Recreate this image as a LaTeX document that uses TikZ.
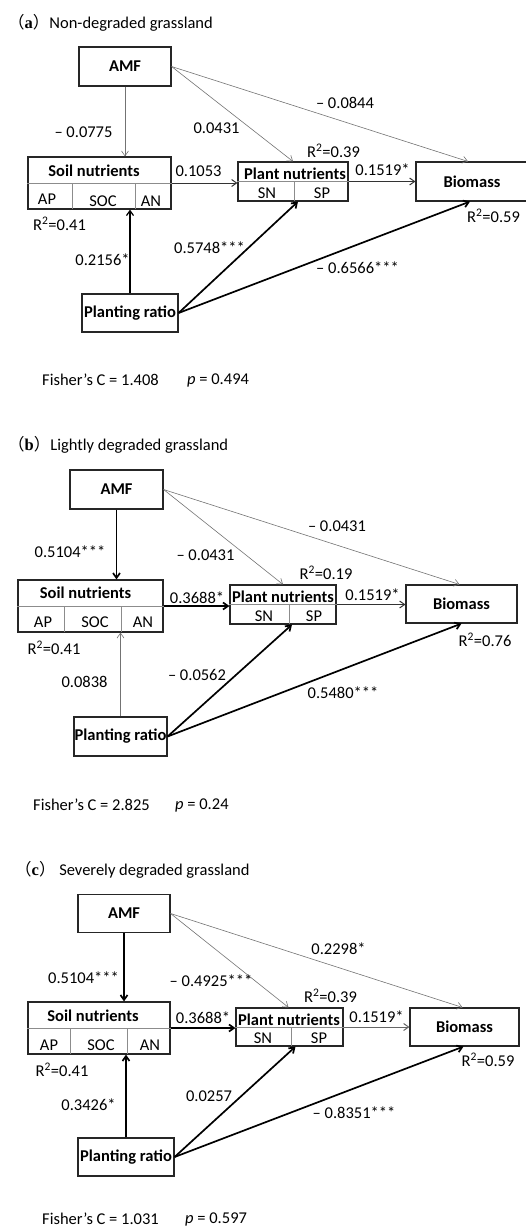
\documentclass[tikz,border=0pt]{standalone}
\usepackage{fontspec}
\setmainfont{Carlito}
\newfontfamily\cjkfont{Noto Sans CJK SC}
\newfontfamily\tagfont{Liberation Serif}
\usepackage{tikz}
\usetikzlibrary{arrows.meta}

\newcommand{\paneltag}[1]{{\cjkfont （}{\tagfont\bfseries #1}{\cjkfont ）}}

\tikzset{
  box/.style={draw=black!85, line width=1.1pt, inner sep=0pt},
  part/.style={draw=black!45, line width=0.6pt},
  thinarr/.style={->, draw=black!55, line width=0.6pt},
  midarr/.style={->, draw=black!80, line width=1pt},
  boldarr/.style={->, draw=black, line width=1.7pt},
  coef/.style={inner sep=0pt}
}

\begin{document}
\begin{tikzpicture}[x=1pt, y=-1pt, font=\fontsize{16.5pt}{19pt}\selectfont, >={Straight Barb[length=5pt,width=7pt]}]
  \useasboundingbox (0,0) rectangle (525,1229);

  \node[coef, anchor=west] (aTitle) at (8,23) {\paneltag{a}Non-degraded grassland};
  \node[box, minimum width=92pt, minimum height=39pt] (aAMF) at (125,66.5) {\textbf{AMF}};
  \node[box, minimum width=143pt, minimum height=52pt] (aSoil) at (99.5,183) {};
  \node[coef] (aSoilT) at (94,171) {\textbf{Soil nutrients}};
  \node[coef] (aAP) at (47,199) {AP};
  \node[coef] (aSOC) at (103,201) {SOC};
  \node[coef] (aAN) at (151,201) {AN};
  \draw[part] (aSoil.west) -- (aSoil.east);
  \draw[part] (72,183) -- (72,209); \draw[part] (135,183) -- (135,209);
  \node[box, minimum width=110pt, minimum height=39pt] (aPlant) at (293,181.5) {};
  \node[coef] (aPlantT) at (295,174) {\textbf{Plant nutrients}};
  \node[coef] (aSN) at (267,193) {SN};
  \node[coef] (aSP) at (322,193) {SP};
  \draw[part] (aPlant.west) -- (aPlant.east);
  \draw[part] (294,182) -- (294,201);
  \node[box, minimum width=112pt, minimum height=39pt] (aBio) at (472,181.5) {\textbf{Biomass}};
  \node[box, minimum width=96pt, minimum height=38pt] (aPR) at (130,313) {\textbf{Planting ratio}};
  \draw[thinarr] (aAMF.south) -- (aAMF.south |- aSoil.north);
  \draw[thinarr] (aAMF.east) -- (aPlant.north);
  \draw[thinarr] (aAMF.east) -- ([xshift=-4pt]aBio.north);
  \draw[midarr] (aSoil.east) -- (aSoil.east -| aPlant.west);
  \draw[midarr] (aPlant.east) -- (aPlant.east -| aBio.west);
  \draw[midarr, draw=black, line width=1.2pt] (aPR.north) -- (aPR.north |- aSoil.south);
  \draw[boldarr] (aPR.east) -- ([xshift=5pt]aPlant.south);
  \draw[boldarr] (aPR.east) -- ([xshift=-2pt]aBio.south);
  \node[coef] (aC1) at (83.5,132) {-- 0.0775};
  \node[coef] (aC2) at (216.5,128) {0.0431};
  \node[coef] (aC3) at (345,103) {-- 0.0844};
  \node[coef] (aR1) at (333.5,151) {R\textsuperscript{2}=0.39};
  \node[coef] (aC4) at (198.5,171) {0.1053};
  \node[coef] (aC5) at (382.5,170) {0.1519*};
  \node[coef] (aR2) at (59.5,224) {R\textsuperscript{2}=0.41};
  \node[coef] (aR3) at (493.5,216) {R\textsuperscript{2}=0.59};
  \node[coef] (aC6) at (102.5,260) {0.2156*};
  \node[coef] (aC7) at (209.5,248) {0.5748***};
  \node[coef] (aC8) at (357.5,268) {-- 0.6566***};
  \node[coef, anchor=west] (aFisher) at (42,380) {Fisher’s C = 1.408};
  \node[coef, anchor=west] (aP) at (187,380) {\textit{p} = 0.494};

  \node[coef, anchor=west] (bTitle) at (8,445) {\paneltag{b}Lightly degraded grassland};
  \node[box, minimum width=93pt, minimum height=39pt] (bAMF) at (116.5,489.5) {\textbf{AMF}};
  \node[box, minimum width=145pt, minimum height=52pt] (bSoil) at (90.5,606) {};
  \node[coef] (bSoilT) at (85.5,593) {\textbf{Soil nutrients}};
  \node[coef] (bAP) at (43,622) {AP};
  \node[coef] (bSOC) at (95,622) {SOC};
  \node[coef] (bAN) at (143,622) {AN};
  \draw[part] (bSoil.west) -- (bSoil.east);
  \draw[part] (64,606) -- (64,632); \draw[part] (121,606) -- (121,632);
  \node[box, minimum width=106pt, minimum height=39pt] (bPlant) at (283,604.5) {};
  \node[coef] (bPlantT) at (283,597) {\textbf{Plant nutrients}};
  \node[coef] (bSN) at (264,616) {SN};
  \node[coef] (bSP) at (314,616) {SP};
  \draw[part] (bPlant.west) -- (bPlant.east);
  \draw[part] (289,605) -- (289,624);
  \node[box, minimum width=111pt, minimum height=38pt] (bBio) at (461.5,604) {\textbf{Biomass}};
  \node[box, minimum width=93pt, minimum height=39pt] (bPR) at (120.5,736.5) {\textbf{Planting ratio}};
  \draw[boldarr] (bAMF.south) -- (bAMF.south |- bSoil.north);
  \draw[thinarr] (bAMF.east) -- (bPlant.north);
  \draw[thinarr] (bAMF.east) -- ([xshift=-2pt]bBio.north);
  \draw[boldarr] (bSoil.east) -- (bSoil.east -| bPlant.west);
  \draw[midarr] (bPlant.east) -- (bPlant.east -| bBio.west);
  \draw[thinarr] (bPR.north) -- (bPR.north |- bSoil.south);
  \draw[boldarr] (bPR.east) -- ([xshift=9pt]bPlant.south);
  \draw[boldarr] (bPR.east) -- (bBio.south);
  \node[coef] (bC1) at (70,552) {0.5104***};
  \node[coef] (bC2) at (205.5,555) {-- 0.0431};
  \node[coef] (bC3) at (337,526) {-- 0.0431};
  \node[coef] (bR1) at (326,573) {R\textsuperscript{2}=0.19};
  \node[coef] (bC4) at (197,598) {0.3688*};
  \node[coef] (bC5) at (372.5,595) {0.1519*};
  \node[coef] (bR2) at (54,648) {R\textsuperscript{2}=0.41};
  \node[coef] (bR3) at (485,640) {R\textsuperscript{2}=0.76};
  \node[coef] (bC6) at (84.5,682) {0.0838};
  \node[coef] (bC7) at (197,675) {-- 0.0562};
  \node[coef] (bC8) at (343,693) {0.5480***};
  \node[coef, anchor=west] (bFisher) at (33,805) {Fisher’s C = 2.825};
  \node[coef, anchor=west] (bP) at (175,805) {\textit{p} = 0.24};

  \node[coef, anchor=west] (cTitle) at (15,870) {\paneltag{c} Severely degraded grassland};
  \node[box, minimum width=92pt, minimum height=38pt] (cAMF) at (124,913.5) {\textbf{AMF}};
  \node[box, minimum width=142pt, minimum height=52pt] (cSoil) at (99,1028) {};
  \node[coef] (cSoilT) at (93,1016) {\textbf{Soil nutrients}};
  \node[coef] (cAP) at (49,1045) {AP};
  \node[coef] (cSOC) at (101,1045) {SOC};
  \node[coef] (cAN) at (150,1045) {AN};
  \draw[part] (cSoil.west) -- (cSoil.east);
  \draw[part] (70,1028) -- (70,1054); \draw[part] (127,1028) -- (127,1054);
  \node[box, minimum width=107pt, minimum height=38pt] (cPlant) at (289.5,1027) {};
  \node[coef] (cPlantT) at (289,1020) {\textbf{Plant nutrients}};
  \node[coef] (cSN) at (263,1038) {SN};
  \node[coef] (cSP) at (319,1038) {SP};
  \draw[part] (cPlant.west) -- (cPlant.east);
  \draw[part] (291,1028) -- (291,1046);
  \node[box, minimum width=109pt, minimum height=38pt] (cBio) at (464.5,1027) {\textbf{Biomass}};
  \node[box, minimum width=96pt, minimum height=38pt] (cPR) at (126,1157) {\textbf{Planting ratio}};
  \draw[boldarr] (cAMF.south) -- (cAMF.south |- cSoil.north);
  \draw[thinarr] (cAMF.east) -- ([xshift=-1pt]cPlant.north);
  \draw[thinarr] (cAMF.east) -- ([xshift=-2pt]cBio.north);
  \draw[boldarr] (cSoil.east) -- (cSoil.east -| cPlant.west);
  \draw[midarr, draw=black!60] (cPlant.east) -- (cPlant.east -| cBio.west);
  \draw[boldarr] (cPR.north) -- (cPR.north |- cSoil.south);
  \draw[boldarr] (cPR.east) -- ([xshift=6pt]cPlant.south);
  \draw[boldarr] (cPR.east) -- ([xshift=-1pt]cBio.south);
  \node[coef] (cC1) at (83.5,978) {0.5104***};
  \node[coef] (cC2) at (211,981) {-- 0.4925***};
  \node[coef] (cC3) at (338.5,949) {0.2298*};
  \node[coef] (cR1) at (330.5,996) {R\textsuperscript{2}=0.39};
  \node[coef] (cC4) at (203,1018) {0.3688*};
  \node[coef] (cC5) at (376.5,1017) {0.1519*};
  \node[coef] (cR2) at (62,1070) {R\textsuperscript{2}=0.41};
  \node[coef] (cR3) at (488,1060) {R\textsuperscript{2}=0.59};
  \node[coef] (cC6) at (88.5,1105) {0.3426*};
  \node[coef] (cC7) at (209,1096) {0.0257};
  \node[coef] (cC8) at (354,1113) {-- 0.8351***};
  \node[coef, anchor=west] (cFisher) at (42,1219) {Fisher’s C = 1.031};
  \node[coef, anchor=west] (cP) at (185,1219) {\textit{p} = 0.597};
\end{tikzpicture}
\end{document}
